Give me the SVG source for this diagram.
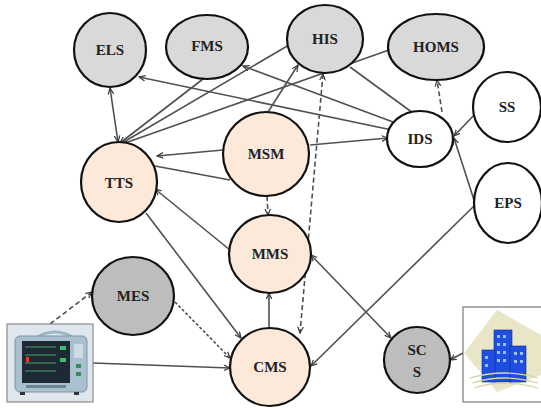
<svg xmlns="http://www.w3.org/2000/svg" width="541" height="408" viewBox="0 0 541 408">
  <defs>
    <style>
      .node { stroke: #111; stroke-width: 2.2; }
      .grey { fill: #d9d9d9; }
      .dark { fill: #bdbdbd; }
      .peach { fill: #fde9d9; }
      .white { fill: #ffffff; }
      .lbl { font-family: "Liberation Serif", "Times New Roman", serif; font-size: 15px; font-weight: bold; fill: #222; text-anchor: middle; dominant-baseline: central; }
      .edge { stroke: #505050; stroke-width: 1.6; fill: none; }
      .dash { stroke-dasharray: 5 3; }
      .dot { stroke-dasharray: 3 2; }
    </style>
    <marker id="arr" viewBox="0 0 10 10" refX="9" refY="5" markerWidth="7" markerHeight="7" orient="auto-start-reverse" markerUnits="userSpaceOnUse">
      <path d="M0,1 L9,5 L0,9" fill="none" stroke="#404040" stroke-width="1.8"/>
    </marker>
  </defs>
  <rect width="541" height="408" fill="#ffffff"/>

  <g id="connectors">
    <line class="edge" x1="110" y1="88" x2="118" y2="142" marker-start="url(#arr)" marker-end="url(#arr)"/>
    <line class="edge" x1="203" y1="79" x2="120" y2="143" marker-end="url(#arr)"/>
    <line class="edge" x1="289" y1="45" x2="122" y2="143"/>
    <line class="edge" x1="389" y1="50" x2="125" y2="143"/>
    <line class="edge" x1="392" y1="130" x2="139" y2="77" marker-end="url(#arr)"/>
    <line class="edge" x1="393" y1="122" x2="243" y2="66" marker-end="url(#arr)"/>
    <line class="edge" x1="413" y1="113" x2="350" y2="67" />
    <line class="edge" x1="223" y1="150" x2="157" y2="156" marker-end="url(#arr)"/>
    <line class="edge" x1="155" y1="166" x2="230" y2="180"/>
    <line class="edge" x1="230" y1="250" x2="155" y2="189" marker-end="url(#arr)"/>
    <line class="edge" x1="146" y1="213" x2="241" y2="338" marker-end="url(#arr)"/>
    <line class="edge dash" x1="267" y1="196" x2="268" y2="215" marker-end="url(#arr)"/>
    <line class="edge" x1="269" y1="328" x2="269" y2="293" stroke-width="2.2" marker-end="url(#arr)"/>
    <line class="edge dash" x1="323" y1="74" x2="300" y2="333" marker-start="url(#arr)" marker-end="url(#arr)"/>
    <line class="edge" x1="311" y1="255" x2="391" y2="338" marker-start="url(#arr)" marker-end="url(#arr)"/>
    <line class="edge" x1="474" y1="206" x2="311" y2="366" marker-end="url(#arr)"/>
    <line class="edge" x1="474" y1="200" x2="454" y2="138" marker-end="url(#arr)"/>
    <line class="edge" x1="477" y1="112" x2="454" y2="136" marker-end="url(#arr)"/>
    <line class="edge dash" x1="442" y1="112" x2="437" y2="80" marker-end="url(#arr)"/>
    <line class="edge" x1="310" y1="145" x2="388" y2="138" marker-end="url(#arr)"/>
    <line class="edge" x1="268" y1="112" x2="298" y2="65" marker-end="url(#arr)"/>
    <line class="edge dash" x1="50" y1="324" x2="92" y2="292" marker-end="url(#arr)"/>
    <line class="edge dot" x1="175" y1="302" x2="230" y2="358" marker-end="url(#arr)"/>
    <line class="edge" x1="93" y1="363" x2="230" y2="368" marker-end="url(#arr)"/>
    <line class="edge" x1="463" y1="353" x2="450" y2="360" marker-end="url(#arr)"/>
  </g>

  <g id="ELS"><ellipse class="node grey" cx="110" cy="50" rx="36" ry="37"/><text class="lbl" x="110" y="50">ELS</text></g>
  <g id="FMS"><ellipse class="node grey" cx="207" cy="47" rx="41" ry="32"/><text class="lbl" x="207" y="46">FMS</text></g>
  <g id="HIS"><ellipse class="node grey" cx="325" cy="39" rx="38" ry="34"/><text class="lbl" x="325" y="39">HIS</text></g>
  <g id="HOMS"><ellipse class="node grey" cx="436" cy="47" rx="48" ry="33"/><text class="lbl" x="436" y="47">HOMS</text></g>
  <g id="SS"><ellipse class="node white" cx="507" cy="107" rx="34" ry="35"/><text class="lbl" x="507" y="107">SS</text></g>
  <g id="IDS"><ellipse class="node white" cx="420" cy="139" rx="33" ry="28"/><text class="lbl" x="420" y="139">IDS</text></g>
  <g id="EPS"><ellipse class="node white" cx="508" cy="203" rx="34" ry="40"/><text class="lbl" x="508" y="203">EPS</text></g>
  <g id="TTS"><ellipse class="node peach" cx="119" cy="182" rx="38" ry="40"/><text class="lbl" x="119" y="183">TTS</text></g>
  <g id="MSM"><ellipse class="node peach" cx="266" cy="154" rx="43" ry="42"/><text class="lbl" x="266" y="154">MSM</text></g>
  <g id="MMS"><ellipse class="node peach" cx="270" cy="254" rx="41" ry="39"/><text class="lbl" x="270" y="254">MMS</text></g>
  <g id="CMS"><ellipse class="node peach" cx="270" cy="367" rx="40" ry="39"/><text class="lbl" x="270" y="367">CMS</text></g>
  <g id="MES"><ellipse class="node dark" cx="133" cy="296" rx="41" ry="39"/><text class="lbl" x="133" y="296">MES</text></g>
  <g id="SCS"><ellipse class="node dark" cx="417" cy="360" rx="33" ry="33"/><text class="lbl" x="417" y="350">SC</text><text class="lbl" x="417" y="372">S</text></g>

  <g id="monitor">
    <rect x="7" y="324" width="86" height="78" fill="#dfe6ee" stroke="#8a8a8a" stroke-width="1.2"/>
    <path d="M36,338 Q55,326 74,338" fill="none" stroke="#9fb4c4" stroke-width="3"/>
    <rect x="15" y="336" width="72" height="56" rx="5" fill="#a9c0cf" stroke="#7e95a5" stroke-width="1"/>
    <rect x="22" y="341" width="48" height="42" fill="#1d2a33"/>
    <g stroke="#4fc27a" stroke-width="0.8">
      <line x1="25" y1="347" x2="56" y2="347"/>
      <line x1="25" y1="355" x2="56" y2="355"/>
      <line x1="25" y1="363" x2="56" y2="363"/>
      <line x1="25" y1="371" x2="56" y2="371"/>
    </g>
    <rect x="60" y="346" width="6" height="4" fill="#3bbf6a"/>
    <rect x="60" y="358" width="6" height="4" fill="#3bbf6a"/>
    <rect x="26" y="357" width="3" height="5" fill="#e0402c"/>
    <rect x="74" y="344" width="9" height="14" fill="#cfdbe4"/>
    <rect x="76" y="364" width="5" height="4" fill="#3a8a5a"/>
    <rect x="76" y="372" width="5" height="4" fill="#3a8a5a"/>
    <rect x="26" y="385" width="40" height="3" fill="#6d8494"/>
    <rect x="20" y="392" width="5" height="3" fill="#333"/>
    <rect x="74" y="392" width="5" height="3" fill="#333"/>
  </g>

  <g id="building">
    <rect x="463" y="307" width="80" height="95" fill="#ffffff" stroke="#7a7a7a" stroke-width="1.2"/>
    <polygon points="497,310 541,335 541,375 497,392 464,353" fill="#e8e6c6"/>
    <g fill="#1f4fe0" stroke="#0b2a9a" stroke-width="0.6">
      <rect x="494" y="330" width="18" height="52"/>
      <rect x="482" y="350" width="13" height="32"/>
      <rect x="510" y="346" width="16" height="36"/>
    </g>
    <g fill="#9fc0ff">
      <rect x="497" y="335" width="3" height="3"/><rect x="503" y="335" width="3" height="3"/>
      <rect x="497" y="343" width="3" height="3"/><rect x="503" y="343" width="3" height="3"/>
      <rect x="497" y="351" width="3" height="3"/><rect x="503" y="351" width="3" height="3"/>
      <rect x="497" y="359" width="3" height="3"/><rect x="503" y="359" width="3" height="3"/>
      <rect x="485" y="356" width="3" height="3"/><rect x="485" y="364" width="3" height="3"/>
      <rect x="514" y="352" width="3" height="3"/><rect x="520" y="352" width="3" height="3"/>
      <rect x="514" y="360" width="3" height="3"/><rect x="520" y="360" width="3" height="3"/>
    </g>
    <g fill="none" stroke="#d8d3a8" stroke-width="1.3">
      <path d="M470,378 Q505,368 538,378"/>
      <path d="M472,383 Q505,373 538,383"/>
      <path d="M474,388 Q505,378 538,388"/>
    </g>
  </g>
</svg>
